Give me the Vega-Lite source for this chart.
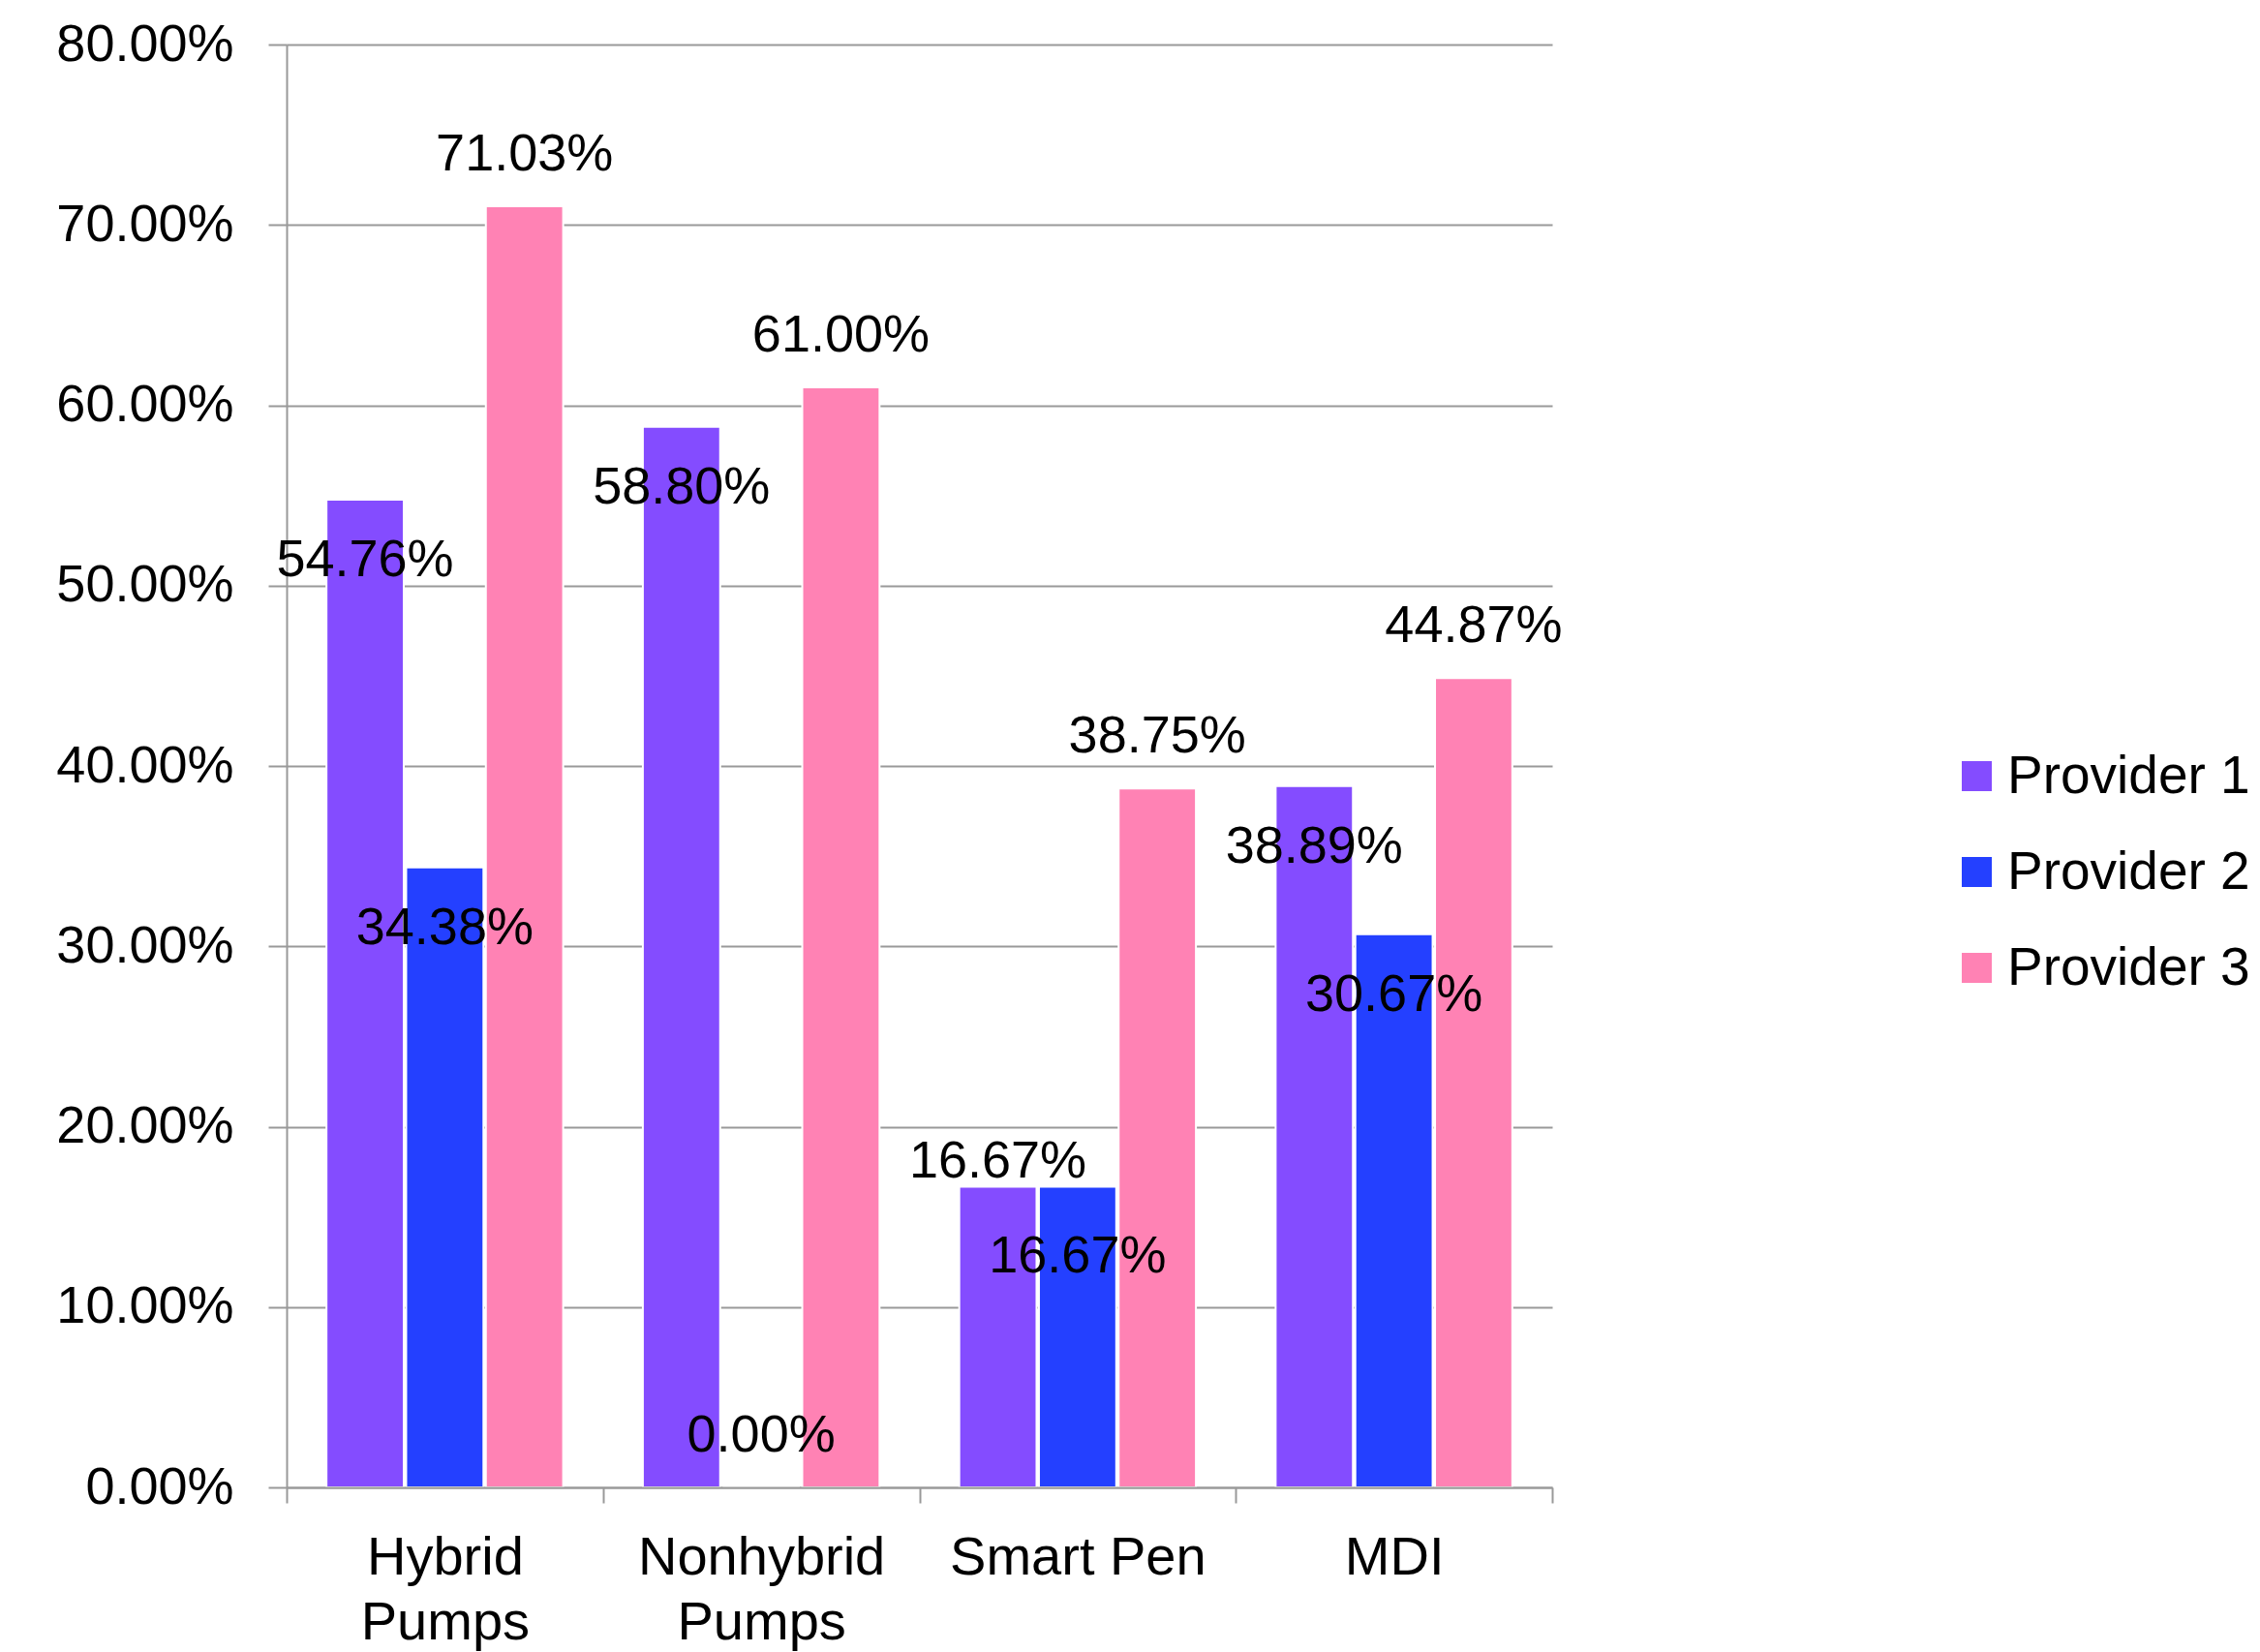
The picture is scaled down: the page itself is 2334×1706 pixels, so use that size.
{
  "$schema": "https://vega.github.io/schema/vega-lite/v6.json",
  "width": 1307,
  "height": 1490,
  "autosize": {"type": "none"},
  "padding": {"left": 296, "top": 46, "right": 731, "bottom": 170},
  "background": "white",
  "config": {"view": {"stroke": null}, "font": "Liberation Sans"},
  "data": {
    "values": [
      {"category": "Hybrid Pumps", "provider": "Provider 1", "value": 0.5476},
      {"category": "Hybrid Pumps", "provider": "Provider 2", "value": 0.3438},
      {"category": "Hybrid Pumps", "provider": "Provider 3", "value": 0.7103},
      {"category": "Nonhybrid Pumps", "provider": "Provider 1", "value": 0.588},
      {"category": "Nonhybrid Pumps", "provider": "Provider 2", "value": 0.0},
      {"category": "Nonhybrid Pumps", "provider": "Provider 3", "value": 0.61},
      {"category": "Smart Pen", "provider": "Provider 1", "value": 0.1667},
      {"category": "Smart Pen", "provider": "Provider 2", "value": 0.1667},
      {"category": "Smart Pen", "provider": "Provider 3", "value": 0.3875},
      {"category": "MDI", "provider": "Provider 1", "value": 0.3889},
      {"category": "MDI", "provider": "Provider 2", "value": 0.3067},
      {"category": "MDI", "provider": "Provider 3", "value": 0.4487}
    ]
  },
  "encoding": {
    "x": {
      "field": "category",
      "type": "nominal",
      "sort": ["Hybrid Pumps", "Nonhybrid Pumps", "Smart Pen", "MDI"],
      "scale": {"paddingInner": 0, "paddingOuter": 0},
      "axis": {
        "title": null,
        "zindex": 1,
        "labelAngle": 0,
        "labelFontSize": 56,
        "labelColor": "#000000",
        "labelExpr": "indexof(datum.label, 'Pumps') >= 0 ? split(datum.label, ' ') : datum.label",
        "labelLineHeight": 67,
        "labelBaseline": "top",
        "labelPadding": 29,
        "labelLimit": 400,
        "tickBand": "extent",
        "tickSize": 16,
        "tickColor": "#999999",
        "tickWidth": 2,
        "domainColor": "#999999",
        "domainWidth": 2,
        "grid": false
      }
    },
    "xOffset": {
      "field": "provider",
      "type": "nominal",
      "sort": ["Provider 1", "Provider 2", "Provider 3"],
      "scale": {"paddingInner": 0.03, "paddingOuter": 0.5}
    },
    "y": {
      "field": "value",
      "type": "quantitative",
      "scale": {"domain": [0, 0.8], "nice": false},
      "axis": {
        "title": null,
        "format": ".2%",
        "values": [0, 0.1, 0.2, 0.3, 0.4, 0.5, 0.6, 0.7, 0.8],
        "labelFontSize": 54,
        "labelColor": "#000000",
        "labelPadding": 36,
        "labelLimit": 400,
        "tickSize": 19,
        "tickColor": "#999999",
        "tickWidth": 2,
        "domainColor": "#999999",
        "domainWidth": 2,
        "grid": true,
        "gridColor": "#999999",
        "gridWidth": 2
      }
    }
  },
  "layer": [
    {
      "mark": {"type": "bar", "stroke": "white", "strokeWidth": 2},
      "encoding": {
        "color": {
          "field": "provider",
          "type": "nominal",
          "sort": ["Provider 1", "Provider 2", "Provider 3"],
          "scale": {"domain": ["Provider 1", "Provider 2", "Provider 3"], "range": ["#844CFF", "#2440FF", "#FF82B4"]},
          "legend": {
            "orient": "none",
            "legendX": 1718,
            "legendY": 728,
            "title": null,
            "padding": 0,
            "symbolType": "square",
            "symbolSize": 961,
            "symbolStrokeWidth": 0,
            "labelFontSize": 55,
            "labelColor": "#000000",
            "labelLimit": 400,
            "labelOffset": 4,
            "rowPadding": 43
          }
        }
      }
    },
    {
      "transform": [{"filter": "datum.provider === 'Provider 3' || (datum.provider === 'Provider 2' && datum.category === 'Nonhybrid Pumps')"}],
      "mark": {"type": "text", "dy": -53, "fontSize": 54, "color": "#000000", "baseline": "middle"},
      "encoding": {"text": {"field": "value", "type": "quantitative", "format": ".2%"}}
    },
    {
      "transform": [{"filter": "datum.provider === 'Provider 1' && datum.category === 'Smart Pen'"}],
      "mark": {"type": "text", "dy": -26, "fontSize": 54, "color": "#000000", "baseline": "middle"},
      "encoding": {"text": {"field": "value", "type": "quantitative", "format": ".2%"}}
    },
    {
      "transform": [{"filter": "datum.provider === 'Provider 2' && datum.category === 'Smart Pen'"}],
      "mark": {"type": "text", "dy": 72, "fontSize": 54, "color": "#000000", "baseline": "middle"},
      "encoding": {"text": {"field": "value", "type": "quantitative", "format": ".2%"}}
    },
    {
      "transform": [{"filter": "datum.provider !== 'Provider 3' && datum.category !== 'Smart Pen' && !(datum.provider === 'Provider 2' && datum.category === 'Nonhybrid Pumps')"}],
      "mark": {"type": "text", "dy": 63, "fontSize": 54, "color": "#000000", "baseline": "middle"},
      "encoding": {"text": {"field": "value", "type": "quantitative", "format": ".2%"}}
    }
  ]
}
